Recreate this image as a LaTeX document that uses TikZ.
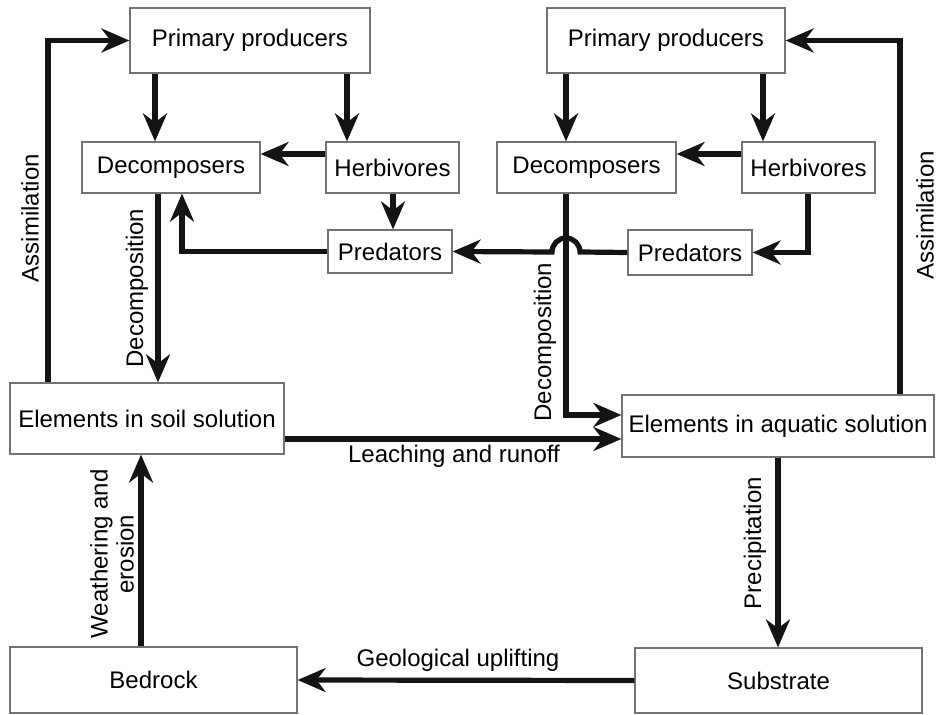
\documentclass[tikz,border=0pt]{standalone}
\usepackage{fontspec}
\setmainfont{Liberation Sans}
\definecolor{boxline}  {RGB}{115,115,115}
\definecolor{flowblack}{RGB}{20,20,20}
\usetikzlibrary{arrows.meta}
\tikzset{
  box/.style={rectangle,draw=boxline,line width=0.6pt,fill=white,inner sep=0pt,
              font=\fontsize{12}{14}\selectfont,align=center},
  arr/.style={-{Stealth[length=14pt,width=12pt,inset=4.5pt]},line width=2.6pt,flowblack},
  lbl/.style={font=\fontsize{12}{13}\selectfont,inner sep=0pt,align=center},
}
\begin{document}
\begin{tikzpicture}[x=0.5pt,y=-0.5pt]
    \useasboundingbox (0,0) rectangle (936,715);
    % terrestrial side
    \node[box,minimum width=120pt,minimum height=32.5pt] (ppL)   at (250,40.5)   {Primary producers};
    \node[box,minimum width=89pt,minimum height=25.5pt]  (decL)  at (171,167.5)  {Decomposers};
    \node[box,minimum width=66.5pt,minimum height=25.5pt](herbL) at (392.5,167.5){Herbivores};
    \node[box,minimum width=62pt,minimum height=21.5pt]  (predL) at (390,251.5)  {Predators};
    \node[box,minimum width=137pt,minimum height=35.5pt] (soil)  at (147,418.5)  {Elements in soil solution};
    \node[box,minimum width=143.5pt,minimum height=33pt] (bed)   at (153.5,680)  {Bedrock};
    % aquatic side
    \node[box,minimum width=119pt,minimum height=32.5pt] (ppR)   at (666,40.5)   {Primary producers};
    \node[box,minimum width=89.5pt,minimum height=25.5pt](decR)  at (586.5,167.5){Decomposers};
    \node[box,minimum width=66.5pt,minimum height=25.5pt](herbR) at (808.5,167.5){Herbivores};
    \node[box,minimum width=62pt,minimum height=22.5pt]  (predR) at (690,252.5)  {Predators};
    \node[box,minimum width=156pt,minimum height=31pt]   (aqua)  at (778,426)    {Elements in aquatic solution};
    \node[box,minimum width=143.5pt,minimum height=32.5pt](sub)  at (778.5,680.5){Substrate};

    % food web, land
    \draw[arr] (48,0 |- soil.north) |- (ppL.west);
    \draw[arr] (155,0 |- ppL.south) -- (155,0 |- decL.north);
    \draw[arr] (347,0 |- ppL.south) -- (347,0 |- herbL.north);
    \draw[arr] (herbL.west |- 0,154) -- (decL.east |- 0,154);
    \draw[arr] (393,0 |- herbL.south) -- (393,0 |- predL.north);
    \draw[arr] (predL.west) -| (182,0 |- decL.south);
    \draw[arr] (158,0 |- decL.south) -- (158,0 |- soil.north);
    % food web, water
    \draw[arr] (566,0 |- ppR.south) -- (566,0 |- decR.north);
    \draw[arr] (763,0 |- ppR.south) -- (763,0 |- herbR.north);
    \draw[arr] (herbR.west |- 0,154) -- (decR.east |- 0,154);
    \draw[arr] (808,0 |- herbR.south) |- (predR.east);
    \draw[arr] (predR.west) -- (580,252) arc[start angle=0,end angle=-180,radius=14]
               -- (predL.east);
    \draw[arr] (566,0 |- decR.south) |- (aqua.west |- 0,415);
    \draw[arr] (900,0 |- aqua.north) |- (ppR.east);
    % geochemical loop
    \draw[arr] (soil.east |- 0,439) -- (aqua.west |- 0,439);
    \draw[arr] (aqua.south) -- (aqua.south |- sub.north);
    \draw[arr] (sub.west) -- (bed.east);
    \draw[arr] (141,0 |- bed.north) -- (141,0 |- soil.south);

    % labels
    \node[lbl,rotate=90] (assimL)  at (30,218)  {Assimilation};
    \node[lbl,rotate=90] (assimR)  at (925,215) {Assimilation};
    \node[lbl,rotate=90] (decompL) at (137,288) {Decomposition};
    \node[lbl,rotate=90] (decompR) at (545,342) {Decomposition};
    \node[lbl]           (leach)   at (454,456) {Leaching and runoff};
    \node[lbl,rotate=90] (precip)  at (755,543) {Precipitation};
    \node[lbl]           (uplift)  at (458,660) {Geological uplifting};
    \node[lbl,rotate=90] (weather) at (112,554) {Weathering and\\erosion};
  \end{tikzpicture}
\end{document}
